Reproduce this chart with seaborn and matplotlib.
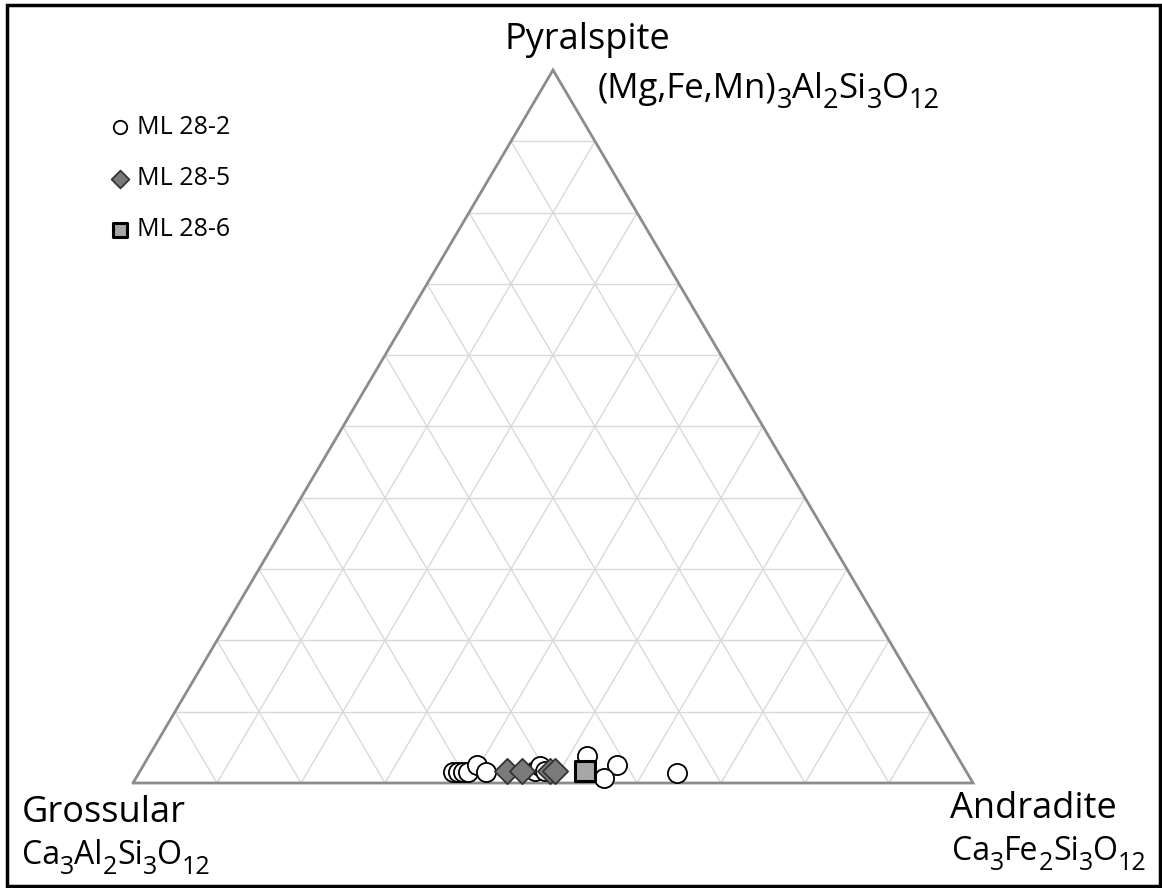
import matplotlib
matplotlib.use("Agg")
import matplotlib.pyplot as plt
import numpy as np
import pandas as pd
import seaborn as sns
from matplotlib.patches import Rectangle

# Garnet end-member proportions (mol %); grossular is the remainder
samples = ["ML 28-2", "ML 28-5", "ML 28-6"]

ml28_2_pyralspite = [1.5, 1.5, 1.5, 1.5, 2.5, 1.5, 1.7, 2.4, 1.7, 3.8, 2.5, 0.7, 1.4]
ml28_2_andradite = [37.3, 37.9, 38.5, 39.1, 39.7, 41.3, 47.0, 47.3, 48.2, 52.1, 56.4, 55.7, 64.1]

ml28_5_pyralspite = [1.7, 1.7, 1.7, 1.7]
ml28_5_andradite = [43.7, 45.5, 48.8, 49.4]

ml28_6_pyralspite = [1.7]
ml28_6_andradite = [53.0]

sns.set_theme(style="white")
FONT = ["Open Sans", "DejaVu Sans"]
plt.rcParams["font.family"] = FONT


def to_frame(name, pyr, andr):
    pyr = np.asarray(pyr, float)
    andr = np.asarray(andr, float)
    gro = 100.0 - pyr - andr
    return pd.DataFrame({
        "sample": name,
        "Pyralspite": pyr,
        "Andradite": andr,
        "Grossular": gro,
        # ternary -> cartesian (grossular left, andradite right, pyralspite apex)
        "x": andr / 100.0 + pyr / 200.0,
        "y": pyr / 100.0,
    })


df = pd.concat([
    to_frame(samples[0], ml28_2_pyralspite, ml28_2_andradite),
    to_frame(samples[1], ml28_5_pyralspite, ml28_5_andradite),
    to_frame(samples[2], ml28_6_pyralspite, ml28_6_andradite),
], ignore_index=True)

W, H = 1162, 888
fig = plt.figure(figsize=(W / 100, H / 100), dpi=100)
ax = fig.add_axes([0, 0, 1, 1])
ax.set_xlim(-133 / 840, (W - 133) / 840)
ax.set_ylim(-(H - 783) / 713, 783 / 713)
ax.axis("off")

# 10 % grid lines parallel to each side
grid_kw = dict(color="#d9d9d9", lw=1.0, zorder=1)
for k in range(1, 10):
    f = k / 10
    ax.plot([f / 2, 1 - f / 2], [f, f], **grid_kw)              # constant pyralspite
    ax.plot([f, f + (1 - f) / 2], [0, 1 - f], **grid_kw)        # constant andradite
    ax.plot([1 - f, (1 - f) / 2], [0, 1 - f], **grid_kw)        # constant grossular

# triangle outline
ax.plot([0, 1, 0.5, 0], [0, 0, 1, 0], color="#8c8c8c", lw=2.0, zorder=2,
        solid_joinstyle="miter")

styles = {
    "ML 28-2": dict(marker="o", s=190, color="white", edgecolor="black", linewidth=1.3),
    "ML 28-5": dict(marker="D", s=165, color="#7a7a7a", edgecolor="#333333", linewidth=1.3),
    "ML 28-6": dict(marker="s", s=200, color="#a6a6a6", edgecolor="black", linewidth=2.2),
}
for i, name in enumerate(samples):
    sub = df[df["sample"] == name]
    sns.scatterplot(data=sub, x="x", y="y", ax=ax, label=name, zorder=3 + i,
                    **styles[name])

leg = ax.legend(loc="upper left", bbox_to_anchor=(107.5 / W, 1 - 115 / H),
                bbox_transform=fig.transFigure, frameon=False, fontsize=18,
                markerscale=0.7, handletextpad=0.18, labelspacing=1.05,
                handlelength=1.0, borderaxespad=0, borderpad=0)
for t in leg.get_texts():
    t.set_color("black")

renderer = fig.canvas.get_renderer()


def chem(x, y, runs, size, sub_size, sub_drop):
    """Write a formula run by run; runs flagged True are subscripts.
    x, y are pixel coordinates (from the top-left) of the baseline start."""
    cx = x
    for txt, is_sub in runs:
        fs = sub_size if is_sub else size
        yy = y + (sub_drop if is_sub else 0)
        t = fig.text(cx / W, 1 - yy / H, txt, fontsize=fs, color="black",
                     ha="left", va="baseline")
        cx += t.get_window_extent(renderer).width


def formula(s):
    runs = []
    for ch in s:
        is_sub = ch.isdigit()
        if runs and runs[-1][1] == is_sub:
            runs[-1] = (runs[-1][0] + ch, is_sub)
        else:
            runs.append((ch, is_sub))
    return runs


title_kw = dict(color="black", ha="left", va="baseline", fontsize=26)
fig.text(505 / W, 1 - 49 / H, "Pyralspite", **title_kw)
fig.text(22 / W, 1 - 822 / H, "Grossular", **title_kw)
fig.text(950 / W, 1 - 818 / H, "Andradite", **title_kw)

chem(598, 98, formula("(Mg,Fe,Mn)3Al2Si3O12"), 25, 19.5, 10)
chem(22, 864, formula("Ca3Al2Si3O12"), 23, 18, 10)
chem(952, 860, formula("Ca3Fe2Si3O12"), 23, 18, 10)

# outer frame
x0, x1, y0, y1 = 7, 1160, 5, 886
fig.patches.append(Rectangle((x0 / W, 1 - y1 / H), (x1 - x0) / W, (y1 - y0) / H,
                             transform=fig.transFigure, fill=False,
                             edgecolor="black", lw=2.5, zorder=10))

fig.savefig("out.png", dpi=100, facecolor="white")
